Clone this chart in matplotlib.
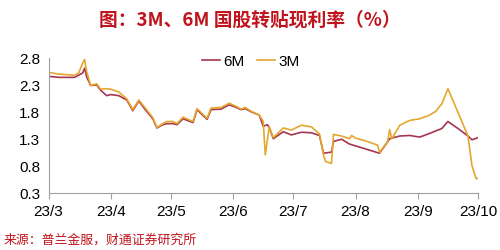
import matplotlib
matplotlib.use("Agg")
import matplotlib.pyplot as plt
import pandas as pd

plt.rcParams['font.family'] = ['Liberation Sans', 'Noto Sans CJK SC', 'DejaVu Sans']

dates_6m = ["2023-03-01", "2023-03-06", "2023-03-14", "2023-03-16", "2023-03-18", "2023-03-19",
            "2023-03-20", "2023-03-22", "2023-03-25", "2023-03-27", "2023-03-30", "2023-04-01",
            "2023-04-05", "2023-04-09", "2023-04-12", "2023-04-15", "2023-04-18", "2023-04-22",
            "2023-04-24", "2023-04-27", "2023-04-29", "2023-05-02", "2023-05-04", "2023-05-07",
            "2023-05-12", "2023-05-14", "2023-05-19", "2023-05-21", "2023-05-26", "2023-05-30",
            "2023-06-02", "2023-06-05", "2023-06-07", "2023-06-10", "2023-06-14", "2023-06-16",
            "2023-06-18", "2023-06-19", "2023-06-21", "2023-06-26", "2023-06-30", "2023-07-05",
            "2023-07-10", "2023-07-14", "2023-07-16", "2023-07-20", "2023-07-21", "2023-07-25",
            "2023-07-29", "2023-08-06", "2023-08-12", "2023-08-13", "2023-08-18", "2023-08-21",
            "2023-08-23", "2023-08-28", "2023-09-02", "2023-09-07", "2023-09-13", "2023-09-16",
            "2023-09-21", "2023-09-26", "2023-09-28", "2023-10-01"]
rate_6m = [2.46, 2.44, 2.44, 2.48, 2.52, 2.61,
           2.45, 2.29, 2.30, 2.20, 2.10, 2.12,
           2.10, 2.02, 1.82, 2.00, 1.85, 1.67,
           1.50, 1.56, 1.58, 1.58, 1.56, 1.67,
           1.60, 1.84, 1.66, 1.84, 1.85, 1.93,
           1.89, 1.84, 1.86, 1.80, 1.74, 1.53,
           1.56, 1.51, 1.30, 1.43, 1.37, 1.42,
           1.41, 1.36, 1.03, 1.05, 1.25, 1.29,
           1.20, 1.11, 1.04, 1.03, 1.30, 1.33,
           1.35, 1.36, 1.33, 1.40, 1.49, 1.62,
           1.49, 1.35, 1.28, 1.32]

dates_3m = ["2023-03-01", "2023-03-06", "2023-03-14", "2023-03-16", "2023-03-18", "2023-03-19",
            "2023-03-20", "2023-03-22", "2023-03-25", "2023-03-27", "2023-03-30", "2023-04-01",
            "2023-04-05", "2023-04-09", "2023-04-12", "2023-04-15", "2023-04-18", "2023-04-22",
            "2023-04-24", "2023-04-27", "2023-04-29", "2023-05-02", "2023-05-04", "2023-05-07",
            "2023-05-12", "2023-05-14", "2023-05-19", "2023-05-21", "2023-05-26", "2023-05-30",
            "2023-06-02", "2023-06-05", "2023-06-07", "2023-06-10", "2023-06-14", "2023-06-16",
            "2023-06-17", "2023-06-19", "2023-06-21", "2023-06-26", "2023-06-30", "2023-07-05",
            "2023-07-10", "2023-07-14", "2023-07-16", "2023-07-17", "2023-07-20", "2023-07-21",
            "2023-07-25", "2023-07-29", "2023-07-30", "2023-08-01", "2023-08-06", "2023-08-12",
            "2023-08-13", "2023-08-17", "2023-08-18", "2023-08-19", "2023-08-21", "2023-08-23",
            "2023-08-28", "2023-09-02", "2023-09-07", "2023-09-10", "2023-09-13", "2023-09-16",
            "2023-09-26", "2023-09-28", "2023-09-30", "2023-10-01"]
rate_3m = [2.535, 2.50, 2.48, 2.52, 2.70, 2.77,
           2.55, 2.29, 2.32, 2.22, 2.23, 2.22,
           2.17, 2.04, 1.84, 2.02, 1.88, 1.69,
           1.51, 1.58, 1.62, 1.62, 1.58, 1.70,
           1.62, 1.86, 1.68, 1.87, 1.88, 1.96,
           1.91, 1.85, 1.88, 1.81, 1.74, 1.62,
           1.00, 1.52, 1.32, 1.50, 1.46, 1.55,
           1.52, 1.39, 1.00, 0.88, 0.84, 1.38,
           1.35, 1.30, 1.36, 1.31, 1.26, 1.18,
           1.04, 1.25, 1.47, 1.30, 1.42, 1.55,
           1.64, 1.67, 1.74, 1.81, 1.95, 2.23,
           1.35, 0.80, 0.56, 0.56]

tick_dates = ["2023-03-01", "2023-04-01", "2023-05-01", "2023-06-01",
              "2023-07-01", "2023-08-01", "2023-09-01", "2023-10-01"]
tick_labels = ["23/3", "23/4", "23/5", "23/6", "23/7", "23/8", "23/9", "23/10"]
y_ticks = [0.3, 0.8, 1.3, 1.8, 2.3, 2.8]
y_labels = ["0.3", "0.8", "1.3", "1.8", "2.3", "2.8"]

fig = plt.figure(figsize=(5.0, 2.51), dpi=100)
ax = fig.add_axes([0.097, 0.229, 0.859, 0.536])

ax.plot(pd.to_datetime(dates_6m), rate_6m, color='#A5364F', lw=1.2, label='6M')
ax.plot(pd.to_datetime(dates_3m), rate_3m, color='#E5A62E', lw=1.2, label='3M')

ax.set_xlim(pd.Timestamp("2023-03-01"), pd.Timestamp("2023-10-01"))
ax.set_ylim(0.3, 2.8)
ax.set_xticks(pd.to_datetime(tick_dates))
ax.set_xticklabels(tick_labels, fontsize=11)
ax.set_yticks(y_ticks)
ax.set_yticklabels(y_labels, fontsize=11)

for s in ['top', 'right']:
    ax.spines[s].set_visible(False)
for s in ['left', 'bottom']:
    ax.spines[s].set_color('#A0A0A0')
    ax.spines[s].set_linewidth(0.8)
ax.tick_params(axis='x', length=4, color='#A0A0A0', pad=4, direction='out')
ax.tick_params(axis='y', length=0, pad=6)

leg = ax.legend(loc='center left', bbox_to_anchor=(0.357, 0.975), ncol=2, frameon=False,
                fontsize=11, handlelength=1.2, handletextpad=0.2, columnspacing=0.8,
                borderpad=0, borderaxespad=0)

fig.text(0.5, 0.92, "图：3M、6M 国股转贴现利率（%）", ha='center', va='center',
         fontsize=13.5, color='#C0141C', fontweight='bold',
         family=['Noto Sans CJK SC', 'DejaVu Sans'])
fig.text(0.008, 0.043, "来源：普兰金服，财通证券研究所", ha='left', va='center',
         fontsize=9.3, color='#C0141C', family=['Noto Sans CJK SC', 'DejaVu Sans'])

fig.savefig("out.png", dpi=100)
